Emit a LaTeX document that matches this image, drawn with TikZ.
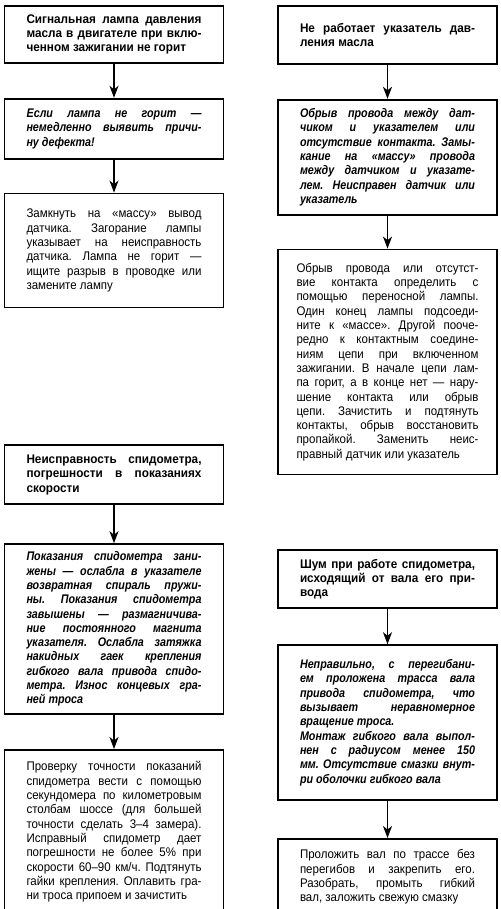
\documentclass[tikz,border=0pt]{standalone}
\usepackage{fontspec}
\setmainfont{Liberation Sans}[UprightFeatures={FakeStretch=0.92},
  BoldFeatures={FakeStretch=0.94}, BoldItalicFeatures={FakeStretch=0.86}]
\usepackage{tikz}
\usetikzlibrary{positioning,arrows.meta}
\tolerance=9999
\hbadness=10000
\hyphenpenalty=10000
\frenchspacing

\begin{document}
\begin{tikzpicture}[
  box/.style={draw, line width=1.8pt, minimum width=219pt, text width=175pt,
    align=justify, font=\fontsize{12.5}{14.3}\selectfont},
  head/.style={box, font=\fontsize{12.5}{14.3}\selectfont\bfseries},
  cause/.style={box, font=\fontsize{12.5}{14.3}\selectfont\bfseries\itshape},
  arr/.style={line width=1.5pt, -{Stealth[length=12pt,width=9pt,inset=3.5pt]}}
]

  \useasboundingbox (0,0) rectangle (500pt,-909pt);

  % left column
  \node[head, minimum height=57pt, anchor=north] (a0) at (114pt,-5pt)
    {Сигнальная лампа давления\linebreak масла в двигателе при вклю-\linebreak ченном зажигании не горит};
  \node[cause, minimum height=60pt] (a1) [below=34pt of a0]
    {Если лампа не горит —\linebreak немедленно выявить причи-\linebreak ну дефекта!};
  \node[box, minimum height=114pt] (a2) [below=33pt of a1]
    {Замкнуть на «массу» вывод\linebreak датчика. Загорание лампы\linebreak указывает на неисправность\linebreak датчика. Лампа не горит —\linebreak ищите разрыв в проводке или\linebreak замените лампу};
  \node[head, minimum height=59pt] (a3) [below=136pt of a2]
    {Неисправность спидометра,\linebreak погрешности в показаниях\linebreak скорости};
  \node[cause, minimum height=170pt] (a4) [below=38pt of a3]
    {Показания спидометра зани-\linebreak жены — ослабла в указателе\linebreak возвратная спираль пружи-\linebreak ны. Показания спидометра\linebreak завышены — размагничива-\linebreak ние постоянного магнита\linebreak указателя. Ослабла затяжка\linebreak накидных гаек крепления\linebreak гибкого вала привода спидо-\linebreak метра. Износ концевых гра-\linebreak ней троса};
  \node[box, minimum height=164pt] (a5) [below=34pt of a4]
    {Проверку точности показаний\linebreak спидометра вести с помощью\linebreak секундомера по километровым\linebreak столбам шоссе (для большей\linebreak точности сделать 3–4 замера).\linebreak Исправный спидометр дает\linebreak погрешности не более 5\% при\linebreak скорости 60–90 км/ч. Подтянуть\linebreak гайки крепления. Оплавить гра-\linebreak ни троса припоем и зачистить};

  % right column
  \node[head, minimum height=58pt, anchor=north] (b0) at (387.5pt,-5pt)
    {Не работает указатель дав-\linebreak ления масла};
  \node[cause, minimum height=115pt] (b1) [below=34pt of b0]
    {Обрыв провода между дат-\linebreak чиком и указателем или\linebreak отсутствие контакта. Замы-\linebreak кание на «массу» провода\linebreak между датчиком и указате-\linebreak лем. Неисправен датчик или\linebreak указатель};
  \node[box, minimum height=225pt, text width=182pt] (b2) [below=33pt of b1]
    {Обрыв провода или отсутст-\linebreak вие контакта определить с\linebreak помощью переносной лампы.\linebreak Один конец лампы подсоеди-\linebreak ните к «массе». Другой пооче-\linebreak редно к контактным соедине-\linebreak ниям цепи при включенном\linebreak зажигании. В начале цепи лам-\linebreak па горит, а в конце нет — нару-\linebreak шение контакта или обрыв\linebreak цепи. Зачистить и подтянуть\linebreak контакты, обрыв восстановить\linebreak пропайкой. Заменить неис-\linebreak правный датчик или указатель};
  \node[head, minimum height=58pt] (b3) [below=74pt of b2]
    {Шум при работе спидометра,\linebreak исходящий от вала его при-\linebreak вода};
  \node[cause, minimum height=155pt] (b4) [below=35pt of b3]
    {Неправильно, с перегибани-\linebreak ем проложена трасса вала\linebreak привода спидометра, что\linebreak вызывает неравномерное\linebreak вращение троса.\\ Монтаж гибкого вала выпол-\linebreak нен с радиусом менее 150\linebreak мм. Отсутствие смазки внут-\linebreak ри оболочки гибкого вала};
  \node[box, minimum height=76pt] (b5) [below=37pt of b4]
    {Проложить вал по трассе без\linebreak перегибов и закрепить его.\linebreak Разобрать, промыть гибкий\linebreak вал, заложить свежую смазку};

  \path[arr] (a0) edge (a1);
  \path[arr] (a1) edge (a2);
  \path[arr] (a3) edge (a4);
  \path[arr] (a4) edge (a5);
  \path[arr] (b0) edge (b1);
  \path[arr] (b1) edge (b2);
  \path[arr] (b3) edge (b4);
  \path[arr] (b4) edge (b5);

\end{tikzpicture}
\end{document}
